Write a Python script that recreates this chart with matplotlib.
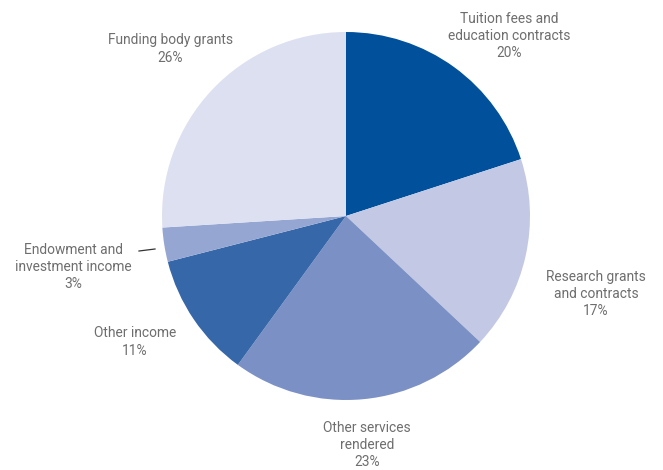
import matplotlib
matplotlib.use("Agg")
import matplotlib.pyplot as plt

# Income breakdown (% of total)
categories = [
    "Tuition fees and\neducation contracts",
    "Research grants\nand contracts",
    "Other services\nrendered",
    "Other income",
    "Endowment and\ninvestment income",
    "Funding body grants",
]
shares = [20, 17, 23, 11, 3, 26]
colors = ["#00509b", "#c3c9e4", "#7b90c4", "#3667a9", "#96a6d2", "#dde0f0"]

# label anchor points (pixel coordinates, origin top-left)
label_pos = [(509, 36), (596, 294), (367, 445), (135, 342), (73, 267), (170, 49)]

W, H = 663, 470
fig = plt.figure(figsize=(W / 100, H / 100), dpi=100)
ax = fig.add_axes([0, 0, 1, 1])

cx, cy, r = 346, H - 216, 184
ax.pie(shares, colors=colors, startangle=90, counterclock=False,
       center=(cx, cy), radius=r, frame=True,
       wedgeprops=dict(linewidth=0))
ax.set_xlim(0, W)
ax.set_ylim(0, H)
ax.set_aspect("equal")
ax.axis("off")

for name, val, (x, y) in zip(categories, shares, label_pos):
    ax.text(x, H - y, f"{name}\n{val}%", ha="center", va="center",
            fontsize=9.9, color="#6e6e6e", family="Roboto",
            linespacing=1.3)

# leader line for the small endowment slice
ax.plot([139, 155], [H - 251, H - 249], color="#333333", lw=0.9)

fig.savefig("out.png", dpi=100)
